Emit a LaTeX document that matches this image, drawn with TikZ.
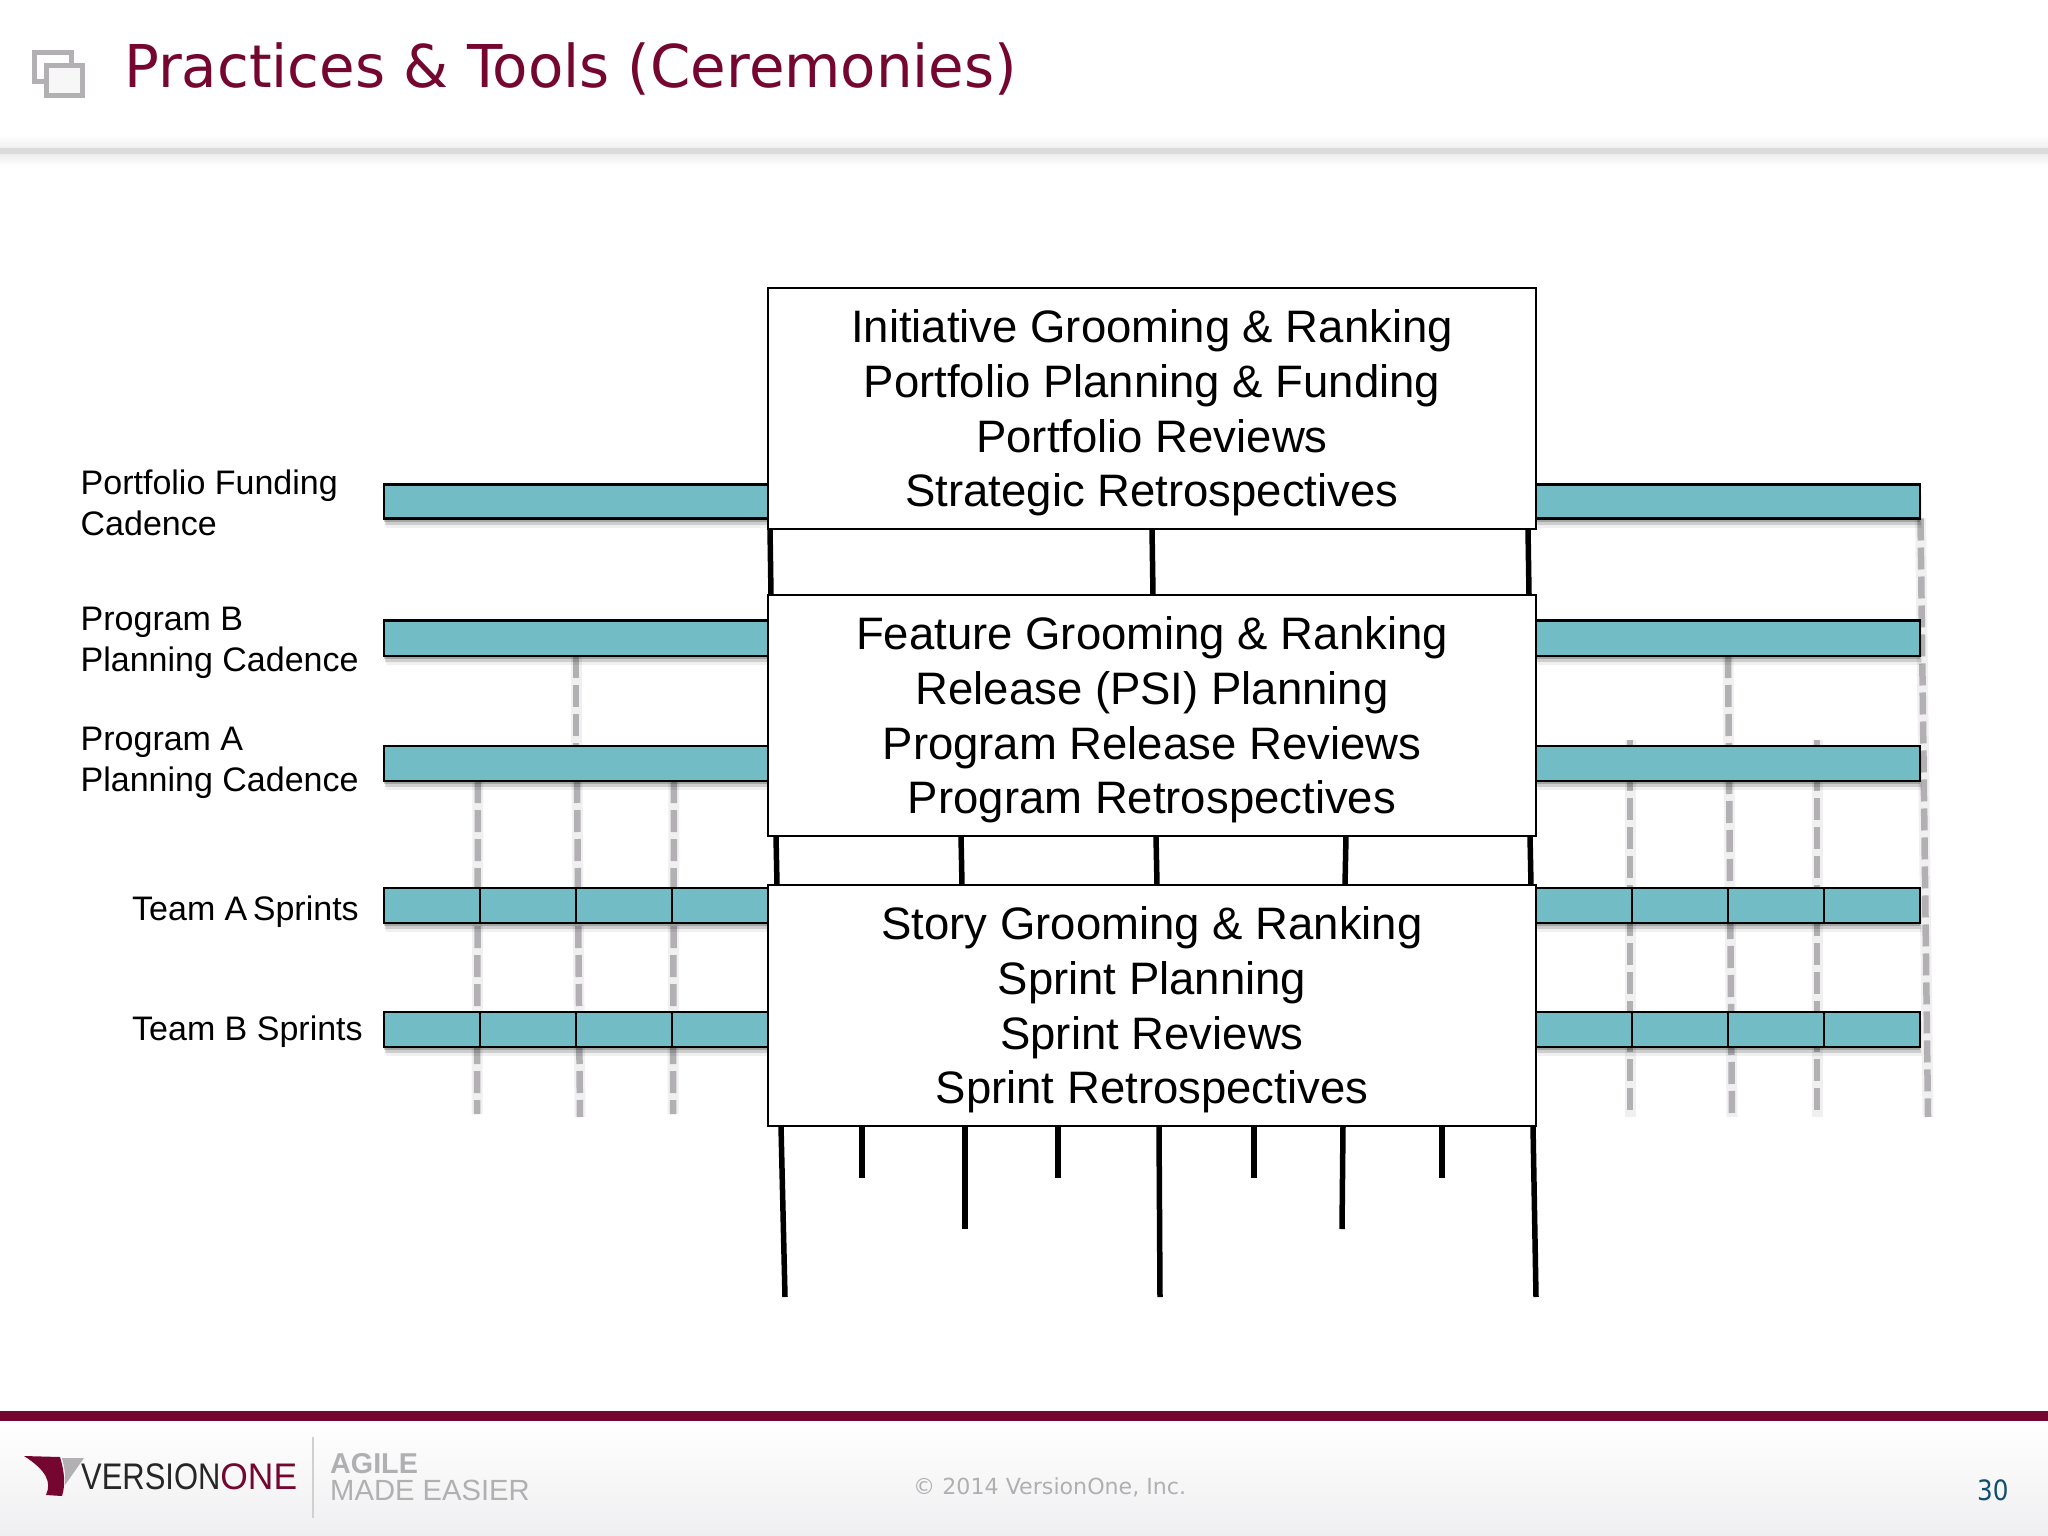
\documentclass[tikz,border=0pt]{standalone}
\usepackage{fontspec}
\usepackage{graphicx}
\setmainfont{Liberation Sans}
\newfontfamily\lucida{DejaVu Sans}
\usetikzlibrary{shadows,backgrounds,fadings}
\definecolor{maroon}{HTML}{75062F}
\definecolor{teal}{HTML}{72BDC5}
\definecolor{gridgrey}{HTML}{B2B0B3}
\definecolor{footgrey}{HTML}{EFEFF1}
\definecolor{hdrgrey}{HTML}{DCDBDC}
\definecolor{agile}{HTML}{B0B0B2}
\definecolor{pageno}{HTML}{0D4F72}
\tikzset{
  softshadow/.style={
    general shadow={shadow xshift=0pt,shadow yshift=-3pt,fill=black,opacity=.2},
    general shadow={shadow xshift=1pt,shadow yshift=-6pt,fill=black,opacity=.14},
    general shadow={shadow xshift=1.5pt,shadow yshift=-9pt,fill=black,opacity=.06}},
  tealbar/.style={draw=black,line width=2.6pt,fill=teal,rectangle,inner sep=0pt,outer sep=0pt,anchor=north west,softshadow},
  ceremony/.style={draw=black,line width=2.4pt,fill=white,rectangle,inner sep=0pt,outer sep=0pt,
    minimum width=768pt,align=center,font=\fontsize{45.5}{54.6}\selectfont},
  sidelabel/.style={anchor=west,align=left,inner sep=0pt,font=\fontsize{34}{40.5}\selectfont},
  tick/.style={line width=5.5pt,black},
  divider/.style={line width=2.6pt,black},
  gridline/.style={gridgrey,line width=6.5pt,dash pattern=on 22pt off 7pt},
  gridglow/.style={gridgrey,line width=11pt,opacity=.18},
}
\newcommand{\tealbar}[5]{\node[tealbar,minimum width={(#4-#2)*1pt},minimum height={(#5-#3)*1pt}] (#1) at (#2,#3) {};}
\newcommand{\firstline}{\rule{0pt}{42pt}}
\begin{document}
\begin{tikzpicture}[x=1pt,y=-1pt]
\useasboundingbox (0,0) rectangle (2048,1536);
\begin{pgfonlayer}{background}
  \fill[white] (0,0) rectangle (2048,1536);
  \shade[top color=white,bottom color=hdrgrey!45] (0,135) rectangle (2048,148);
  \fill[hdrgrey] (0,148) rectangle (2048,155);
  \shade[top color=hdrgrey!45,bottom color=white] (0,155) rectangle (2048,166);
  \shade[top color=white,bottom color=footgrey] (0,1422) rectangle (2048,1536);
\end{pgfonlayer}
% header
\node[anchor=base west,inner sep=0pt,text=maroon,font=\lucida\fontsize{59}{60}\selectfont] (title) at (124,88) {\scalebox{0.98}[1]{Practices \& Tools (Ceremonies)}};
\draw[gridgrey,line width=5pt,fill=white] (34,53) rectangle (71,82);
\draw[gridgrey,line width=5pt,fill=white!97!black] (46,66) rectangle (82,96);
% footer
\fill[maroon] (0,1411) rectangle (2048,1421);
\fill[maroon] (24,1456) -- (60,1457) .. controls (64,1470) and (66,1484) .. (62,1496) -- (46,1495) .. controls (52,1482) and (46,1470) .. cycle;
\fill[gridgrey] (62,1458) -- (84,1458) -- (65,1485) .. controls (66,1475) and (64,1466) .. cycle;
\node[anchor=base west,inner sep=0pt,font=\fontsize{37}{38}\selectfont] (vone) at (81,1489) {\scalebox{0.836}[1]{\textcolor{black!85}{VERSION}}\scalebox{0.957}[1]{\textcolor{maroon}{ONE}}};
\draw[agile!60,line width=1.5pt] (313,1437) -- (313,1518);
\node[anchor=base west,inner sep=0pt,text=agile,font=\bfseries\fontsize{28.7}{29}\selectfont] (agile) at (330,1473) {AGILE};
\node[anchor=base west,inner sep=0pt,text=agile,font=\fontsize{29.2}{30}\selectfont] (easier) at (330,1500) {MADE EASIER};
\node[anchor=base west,inner sep=0pt,text=agile,font=\lucida\fontsize{22.15}{24}\selectfont] (copy) at (913,1494) {© 2014 VersionOne, Inc.};
\node[anchor=base west,inner sep=0pt,text=pageno,font=\lucida\fontsize{28}{29}\selectfont] (pg) at (1977,1500) {\scalebox{0.88}[1]{30}};
% labels
\node[sidelabel] (lpf) at (80.5,503) {Portfolio Funding\\Cadence};
\node[sidelabel] (lpb) at (80.5,643) {Program B\\Planning Cadence};
\node[sidelabel] (lpa) at (80.5,763) {Program A\\Planning Cadence};
\node[sidelabel] (lta) at (132,912) {Team A\kern-4pt{} Sprints};
\node[sidelabel] (ltb) at (132,1032) {Team B Sprints};
% bars
\tealbar{pfl}{384}{484.5}{768}{518.5}
\tealbar{pfr}{1536}{484.5}{1920}{518.5}
\tealbar{pbl}{384}{620.5}{768}{656}
\tealbar{pbr}{1536}{620.5}{1920}{656}
\tealbar{pal}{384}{746}{768}{781}
\tealbar{par}{1536}{746}{1920}{781}
\tealbar{tal}{384}{888}{768}{923}
\tealbar{tar}{1536}{888}{1920}{923}
\tealbar{tbl}{384}{1012}{768}{1047}
\tealbar{tbr}{1536}{1012}{1920}{1047}
\foreach \b in {tal,tbl}\foreach \x in {480,576,672}
  \draw[divider] (\x,0 |- \b.north) -- (\x,0 |- \b.south);
\foreach \b in {tar,tbr}\foreach \x in {1632,1728,1824}
  \draw[divider] (\x,0 |- \b.north) -- (\x,0 |- \b.south);
% grid lines behind the bars
\coordinate (s4) at (1630,740);
\coordinate (s6) at (1817,740);
\coordinate (e1) at (477,1114);
\coordinate (e2) at (580,1117);
\coordinate (e3) at (673,1114);
\coordinate (e4) at (1630,1117);
\coordinate (e5) at (1732,1117);
\coordinate (e6) at (1817,1117);
\coordinate (e7) at (1928,1117);
\begin{pgfonlayer}{background}
  \foreach \s/\e in {{576,0 |- pbl.south}/{576,0 |- pal.north},{478,0 |- pal.south}/e1,{577,0 |- pal.south}/e2,{674,0 |- pal.south}/e3,s4/e4,{1728,0 |- pbr.south}/e5,s6/e6,{1920.5,0 |- pfr.south}/e7}{
    \draw[gridglow] (\s) -- (\e);
    \draw[gridline] (\s) -- (\e);
  }
\end{pgfonlayer}
% ceremony boxes
\node[ceremony,minimum height=240.5pt] (b1) at (1152,408.5) {\firstline Initiative Grooming \& Ranking\\Portfolio Planning \& Funding\\Portfolio Reviews\\Strategic Retrospectives};
\node[ceremony,minimum height=241pt] (b2) at (1152,715.5) {\firstline Feature Grooming \& Ranking\\Release (PSI) Planning\\Program Release Reviews\\Program Retrospectives};
\node[ceremony,minimum height=241pt] (b3) at (1152,1005.5) {\firstline Story Grooming \& Ranking\\Sprint Planning\\Sprint Reviews\\Sprint Retrospectives};
% ticks between boxes
\foreach \xa/\xb in {770/771,1152/1153,1528/1529}
  \draw[tick] (\xa,0 |- b1.south) -- (\xb,0 |- b2.north);
\foreach \xa/\xb in {776/777,961/962,1156/1157,1346/1345,1530/1531}
  \draw[tick] (\xa,0 |- b2.south) -- (\xb,0 |- b3.north);
% ticks hanging below
\coordinate (f1) at (785,1297);
\coordinate (f2) at (862,1178);
\coordinate (f3) at (965,1229);
\coordinate (f4) at (1058,1178);
\coordinate (f5) at (1160,1297);
\coordinate (f6) at (1254,1178);
\coordinate (f7) at (1342,1229);
\coordinate (f8) at (1442,1178);
\coordinate (f9) at (1536,1297);
\foreach \xa/\e in {781/f1,862/f2,965/f3,1058/f4,1159/f5,1254/f6,1343/f7,1442/f8,1533/f9}
  \draw[tick] (\xa,0 |- b3.south) -- (\e);
\end{tikzpicture}
\end{document}
